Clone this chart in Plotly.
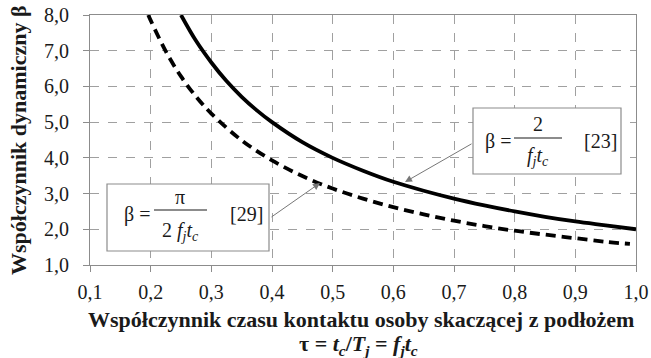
import plotly.graph_objects as go

# Contact-time coefficient tau and dynamic coefficient beta for two models
tau_23 = [0.25, 0.275, 0.3, 0.325, 0.35, 0.375, 0.4, 0.45, 0.5, 0.55, 0.6,
          0.65, 0.7, 0.75, 0.8, 0.85, 0.9, 0.95, 1.0]
beta_23 = [8.0, 7.27, 6.67, 6.15, 5.71, 5.33, 5.0, 4.44, 4.0, 3.64, 3.33,
           3.08, 2.86, 2.67, 2.5, 2.35, 2.22, 2.11, 2.0]

tau_29 = [0.196, 0.2, 0.225, 0.25, 0.275, 0.3, 0.35, 0.4, 0.45, 0.5, 0.55,
          0.6, 0.65, 0.7, 0.75, 0.8, 0.85, 0.9, 0.95, 0.99]
beta_29 = [8.0, 7.85, 6.98, 6.28, 5.71, 5.24, 4.49, 3.93, 3.49, 3.14, 2.86,
           2.62, 2.42, 2.24, 2.09, 1.96, 1.85, 1.75, 1.65, 1.59]

x_ticks = [0.1, 0.2, 0.3, 0.4, 0.5, 0.6, 0.7, 0.8, 0.9, 1.0]
y_ticks = [1, 2, 3, 4, 5, 6, 7, 8]

W, H = 651, 358
L, R, T, B = 90, 636, 15, 265
SERIF = "Liberation Serif"
INK = "#1a1a1a"
GREY = "#8c8c8c"


def px(x):
    return (x - L) / (R - L)


def py(y):
    return (B - y) / (B - T)


fig = go.Figure()
fig.add_trace(go.Scatter(x=tau_23, y=beta_23, mode="lines",
                         line=dict(color="black", width=3.8, shape="spline"),
                         cliponaxis=True, showlegend=False))
fig.add_trace(go.Scatter(x=tau_29, y=beta_29, mode="lines",
                         line=dict(color="black", width=3.8, shape="spline",
                                   dash="10px,6px"),
                         cliponaxis=True, showlegend=False))

axis_common = dict(showline=True, linecolor=GREY, linewidth=1.2, mirror=True,
                   showgrid=True, gridcolor="#a0a0a0", griddash="dash",
                   gridwidth=1, ticks="outside", ticklen=6, tickcolor=GREY,
                   tickfont=dict(family=SERIF, size=20, color=INK),
                   zeroline=False, automargin=False)

fig.update_xaxes(range=[0.1, 1.0], tickvals=x_ticks, tickformat=".1f",
                 ticklabelstandoff=3, **axis_common)
fig.update_yaxes(range=[1, 8], tickvals=y_ticks, tickformat=".1f",
                 ticklabelstandoff=10, **axis_common)

shapes = []
annotations = []

# Formula boxes
for (x0, x1, y0, y1) in [(473, 621, 108, 174), (107, 269, 184, 251)]:
    shapes.append(dict(type="rect", xref="paper", yref="paper",
                       x0=px(x0), x1=px(x1), y0=py(y1), y1=py(y0),
                       fillcolor="white", line=dict(color=GREY, width=1.2),
                       layer="above"))
# Fraction bars
for (x0, x1, y) in [(514, 562, 138), (154, 207, 210)]:
    shapes.append(dict(type="line", xref="paper", yref="paper",
                       x0=px(x0), x1=px(x1), y0=py(y), y1=py(y),
                       line=dict(color=INK, width=1.2), layer="above"))


def txt(x, y, s, anchor="center", size=20, angle=0):
    annotations.append(dict(x=px(x), y=py(y), xref="paper", yref="paper",
                            text=s, showarrow=False, xanchor=anchor,
                            yanchor="middle", textangle=angle,
                            font=dict(family=SERIF, size=size, color=INK)))


# Formula [23]
txt(513, 141, "β =", "right")
txt(538, 124, "2")
txt(538, 156, "<i>f</i><sub><i>j</i></sub><i>t</i><sub><i>c</i></sub>")
txt(582, 141, "[23]", "left")

# Formula [29]
txt(152, 214, "β =", "right")
txt(180, 197, "π")
txt(180, 231, "2 <i>f</i><sub><i>j</i></sub><i>t</i><sub><i>c</i></sub>")
txt(228, 214, "[29]", "left")

# Leader arrows from boxes to curves
for (hx, hy, tx, ty) in [(405, 182, 473, 143), (320, 183, 270, 218)]:
    annotations.append(dict(x=px(hx), y=py(hy), xref="paper", yref="paper",
                            ax=tx - hx, ay=ty - hy, text="", showarrow=True,
                            arrowhead=2, arrowsize=1.4, arrowwidth=1,
                            arrowcolor="#777777"))

# Axis titles
txt(18, 140, "<b>Współczynnik dynamiczny β</b>", size=22, angle=-90)
txt(361, 319, "<b>Współczynnik czasu kontaktu osoby skaczącej z podłożem</b>",
    size=22)
txt(358, 345, "<b>τ = <i>t</i><sub><i>c</i></sub>/<i>T</i><sub><i>j</i></sub> = "
              "<i>f</i><sub><i>j</i></sub><i>t</i><sub><i>c</i></sub></b>",
    size=22)

fig.update_layout(width=W, height=H, separators=", ",
                  margin=dict(l=L, r=W - R, t=T, b=H - B, autoexpand=False),
                  plot_bgcolor="white", paper_bgcolor="white",
                  shapes=shapes, annotations=annotations, showlegend=False)

fig.write_html("out.html", config={"displayModeBar": False})
